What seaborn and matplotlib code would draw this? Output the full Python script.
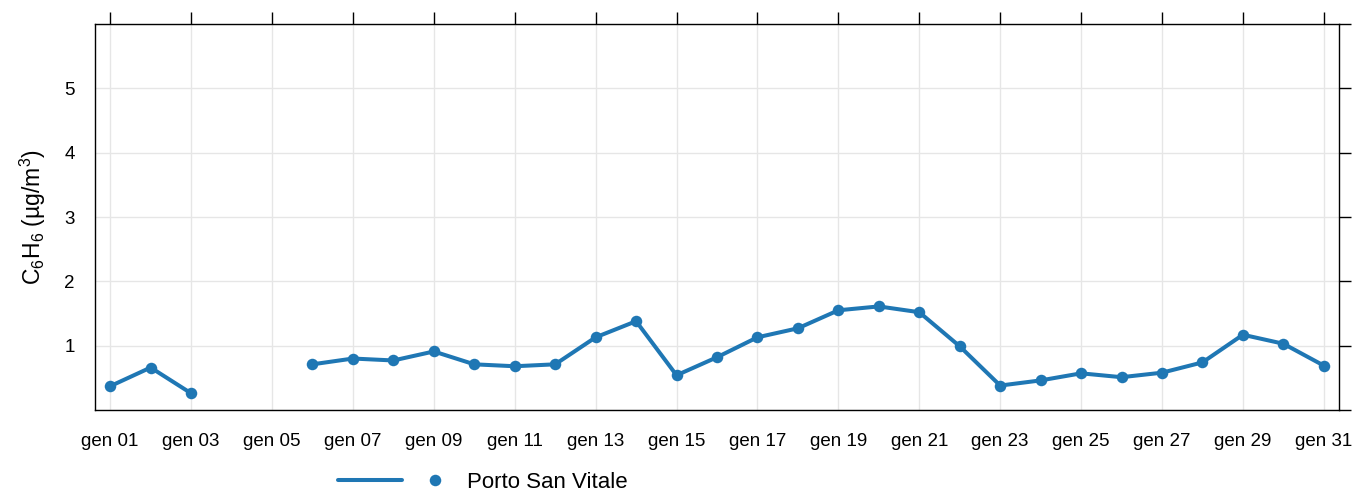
import matplotlib
import numpy as np
import pandas as pd
import seaborn as sns
from matplotlib.dates import DateFormatter, DayLocator
from matplotlib.legend_handler import HandlerTuple
from matplotlib.lines import Line2D

matplotlib.use("Agg")
import matplotlib.pyplot as plt


# daily benzene at Porto San Vitale, January (days 4-5 missing)
days = list(range(1, 32))
benzene = [
    0.37, 0.66, 0.26, np.nan, np.nan, 0.71, 0.80, 0.77, 0.91, 0.71,
    0.68, 0.71, 1.13, 1.38, 0.54, 0.82, 1.13, 1.27, 1.55, 1.61,
    1.52, 0.99, 0.38, 0.46, 0.57, 0.51, 0.58, 0.74, 1.17, 1.03,
    0.69,
]
station = "Porto San Vitale"
y_ticks = [0, 1, 2, 3, 4, 5, 6]
y_labels = ["", "1", "2", "3", "4", "5", ""]

COLOR = "#1f77b4"

sns.set_theme(style="white")
plt.rcParams["font.family"] = ["Liberation Sans", "DejaVu Sans"]
plt.rcParams["mathtext.fontset"] = "custom"
plt.rcParams["mathtext.rm"] = "Liberation Sans"
plt.rcParams["mathtext.it"] = "Liberation Sans"
plt.rcParams["text.color"] = "black"
plt.rcParams["axes.labelcolor"] = "black"
plt.rcParams["xtick.color"] = "black"
plt.rcParams["ytick.color"] = "black"

df = pd.DataFrame({
    "date": pd.to_datetime([f"2024-01-{d:02d}" for d in days]),
    "value": benzene,
})
# split into continuous runs so the gap stays open
df["segment"] = df["value"].isna().cumsum()
df = df.dropna()

fig = plt.figure(figsize=(13.54, 4.9), dpi=100)
ax = fig.add_axes([95 / 1354, 1 - 410 / 490, (1339 - 95) / 1354, (410 - 24) / 490])

sns.lineplot(
    data=df, x="date", y="value", units="segment", estimator=None,
    color=COLOR, linewidth=2.9, marker="o", markersize=8.3,
    markeredgewidth=0, ax=ax,
)

x0 = pd.Timestamp("2024-01-01") - pd.Timedelta(hours=9)
x1 = pd.Timestamp("2024-01-31") + pd.Timedelta(hours=9)
ax.set_xlim(x0, x1)
ax.set_ylim(0, 6)

ax.xaxis.set_major_locator(DayLocator(bymonthday=range(1, 32, 2)))
ax.xaxis.set_major_formatter(DateFormatter("gen %d"))
ax.set_yticks(y_ticks)
ax.set_yticklabels(y_labels)

ax.grid(True, color="#e6e6e6", linewidth=1.0)
ax.set_axisbelow(True)
for spine in ax.spines.values():
    spine.set_color("black")
    spine.set_linewidth(1.0)

ax.tick_params(
    axis="both", which="major", direction="out", length=8.5, width=1.0,
    color="black", labelcolor="black", labelsize=13.5, pad=6,
    top=True, right=True, labeltop=False, labelright=False,
)
ax.tick_params(axis="x", pad=8)

ax.set_xlabel("")
ax.set_ylabel("C$_6$H$_6$ (µg/m$^3$)", fontsize=16.5, labelpad=12)

line_handle = Line2D([], [], color=COLOR, linewidth=2.9)
dot_handle = Line2D([], [], color=COLOR, linestyle="none", marker="o",
                    markersize=8.3, markeredgewidth=0)
fig.legend(
    handles=[(line_handle, dot_handle)], labels=[station],
    handler_map={tuple: HandlerTuple(ndivide=None, pad=0.0)},
    loc="center left", bbox_to_anchor=(329 / 1354, 1 - 482 / 490),
    frameon=False, fontsize=16, handlelength=5.8, handletextpad=0.0,
    numpoints=1, borderaxespad=0,
)

fig.savefig("out.png", dpi=100)
